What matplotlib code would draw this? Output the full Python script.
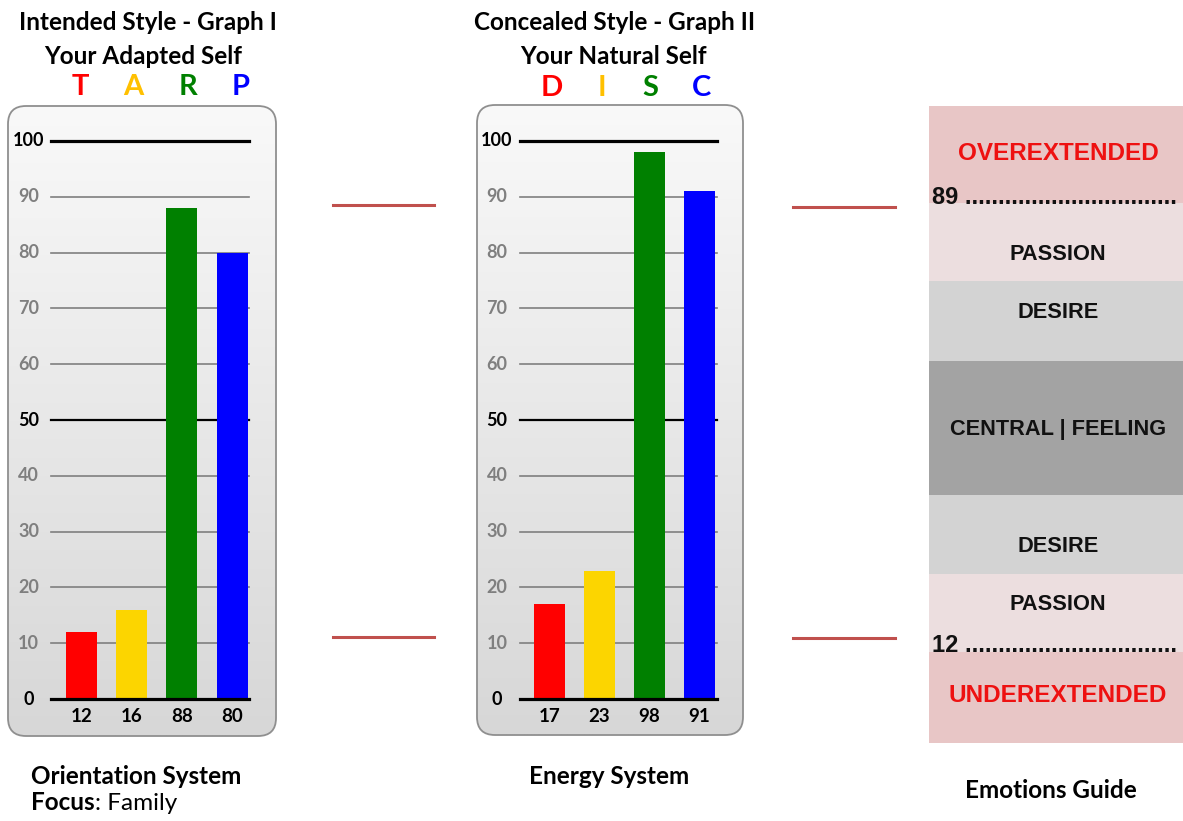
import numpy as np
import matplotlib
matplotlib.use("Agg")
import matplotlib.pyplot as plt
from matplotlib.patches import FancyBboxPatch, Rectangle
from matplotlib.colors import LinearSegmentedColormap

# ---------------- data ----------------
tarp_letters = ["T", "A", "R", "P"]
tarp_values = [12, 16, 88, 80]
disc_letters = ["D", "I", "S", "C"]
disc_values = [17, 23, 98, 91]
bar_colors = ["#FF0000", "#FCD500", "#008000", "#0000FF"]
letter_colors = ["#FF0000", "#FFC000", "#008000", "#0000FF"]
y_ticks = [0, 10, 20, 30, 40, 50, 60, 70, 80, 90, 100]
guide_labels = ["OVEREXTENDED", "PASSION", "DESIRE", "CENTRAL | FEELING",
                "DESIRE", "PASSION", "UNDEREXTENDED"]
guide_high = 89
guide_low = 12

W, H = 1183, 821
fig = plt.figure(figsize=(W / 100, H / 100), dpi=100)
fig.patch.set_facecolor("white")

TITLE_FONT = ["Lato", "DejaVu Sans"]
GUIDE_FONT = ["Liberation Sans", "DejaVu Sans"]
TS = 17.5

ov = fig.add_axes([0, 0, 1, 1], zorder=0)
ov.set_xlim(0, W)
ov.set_ylim(H, 0)
ov.axis("off")

cmap = LinearSegmentedColormap.from_list("panel", ["#f9f9f9", "#d7d7d7"])
grad = np.linspace(0, 1, 256).reshape(-1, 1)


def panel(x0, y0, x1, y1):
    clip = FancyBboxPatch((x0, y0), x1 - x0, y1 - y0,
                          boxstyle="round,pad=0,rounding_size=18",
                          facecolor="none", edgecolor="none",
                          transform=ov.transData)
    ov.add_patch(clip)
    im = ov.imshow(grad, cmap=cmap, extent=(x0, x1, y1, y0), origin="upper",
                   aspect="auto", zorder=1)
    im.set_clip_path(clip)
    border = FancyBboxPatch((x0, y0), x1 - x0, y1 - y0,
                            boxstyle="round,pad=0,rounding_size=18",
                            facecolor="none", edgecolor="#8f8f8f", lw=1.3,
                            zorder=2)
    ov.add_patch(border)


panel(8, 106, 276, 736)
panel(477, 105, 743, 735)
ov.set_xlim(0, W)
ov.set_ylim(H, 0)

XL = (-0.6, 3.34)


def bar_chart(center0, spacing, values):
    x0 = center0 + XL[0] * spacing
    x1 = center0 + XL[1] * spacing
    ax = fig.add_axes([x0 / W, 1 - 699 / H, (x1 - x0) / W, (699 - 141) / H],
                      zorder=1)
    ax.set_facecolor("none")
    ax.set_xlim(*XL)
    ax.set_ylim(0, 100)
    for s in ax.spines.values():
        s.set_visible(False)
    ax.set_xticks([])
    ax.set_yticks([])
    for v in y_ticks:
        if v in (0, 100):
            col, lw, tc = "black", 2.3, "black"
        elif v == 50:
            col, lw, tc = "black", 1.6, "black"
        else:
            col, lw, tc = "#7f7f7f", 1.2, "#7f7f7f"
        ax.axhline(v, color=col, lw=lw, zorder=1 if v else 3, clip_on=False)
        ax.text(-1.05, v, str(v), ha="center", va="center", color=tc,
                fontsize=13, fontweight="bold", family=TITLE_FONT,
                clip_on=False)
    xs = np.arange(len(values))
    ax.bar(xs, values, width=0.62, color=bar_colors, zorder=2)
    for x, v in zip(xs, values):
        ax.text(x, -3.1, str(v), ha="center", va="center", fontsize=13.5,
                fontweight="bold", family=TITLE_FONT, clip_on=False)
    return ax


bar_chart(81.5, 50.2, tarp_values)
bar_chart(549.5, 50.0, disc_values)


def t(x, y, s, **kw):
    kw.setdefault("family", TITLE_FONT)
    kw.setdefault("fontweight", "bold")
    return ov.text(x, y, s, **kw)


t(148, 22, "Intended Style - Graph I", ha="center", va="center", fontsize=TS)
t(143, 56, "Your Adapted Self", ha="center", va="center", fontsize=TS)
for x, l, c in zip([80, 133, 188, 241], tarp_letters, letter_colors):
    t(x, 87, l, ha="center", va="center", fontsize=21, color=c)

t(615, 22, "Concealed Style - Graph II", ha="center", va="center", fontsize=TS)
t(613, 56, "Your Natural Self", ha="center", va="center", fontsize=TS)
for x, l, c in zip([552, 602, 650, 702], disc_letters, letter_colors):
    t(x, 88, l, ha="center", va="center", fontsize=21, color=c)

t(31, 777, "Orientation System", ha="left", va="center", fontsize=TS)
focus = t(31, 803, "Focus", ha="left", va="center", fontsize=TS)
fig.canvas.draw()
bb = focus.get_window_extent(renderer=fig.canvas.get_renderer())
fx_end = bb.x1
ov.text(fx_end, 803, ": Family", ha="left", va="center", fontsize=TS,
        family=TITLE_FONT)
t(609, 777, "Energy System", ha="center", va="center", fontsize=TS)
t(1051, 790, "Emotions Guide", ha="center", va="center", fontsize=TS)

# connector lines
for (xa, xb), ys in [((333, 434), (205.5, 637)), ((793, 895), (207, 638))]:
    for y in ys:
        ov.plot([xa, xb], [y, y], color="#C0504D", lw=2.2, zorder=3)

# emotions guide
edges = [106, 203, 281, 361, 495, 574, 652, 743]
band_colors = ["#E8C6C6", "#ECDEDF", "#D3D3D3", "#A3A3A3", "#D3D3D3",
               "#ECDEDF", "#E8C6C6"]
text_y = [154, 255, 313, 430, 546, 605, 696]
for i, lab in enumerate(guide_labels):
    ov.add_patch(Rectangle((929, edges[i]), 270, edges[i + 1] - edges[i],
                           facecolor=band_colors[i], edgecolor="none",
                           zorder=1))
    red = lab.endswith("EXTENDED")
    ov.text(1058, text_y[i], lab, ha="center", va="center",
            fontsize=17.5 if red else 15.7, fontweight="bold",
            family=GUIDE_FONT,
            color="#EE1111" if red else "#111111", zorder=3)

for val, yy in ((guide_high, 198), (guide_low, 645)):
    ov.text(932, yy, f"{val} " + "." * 32, ha="left", va="center",
            fontsize=17, fontweight="bold", family=GUIDE_FONT,
            color="#111111", zorder=3)

fig.savefig("out.png", dpi=100, facecolor="white")
